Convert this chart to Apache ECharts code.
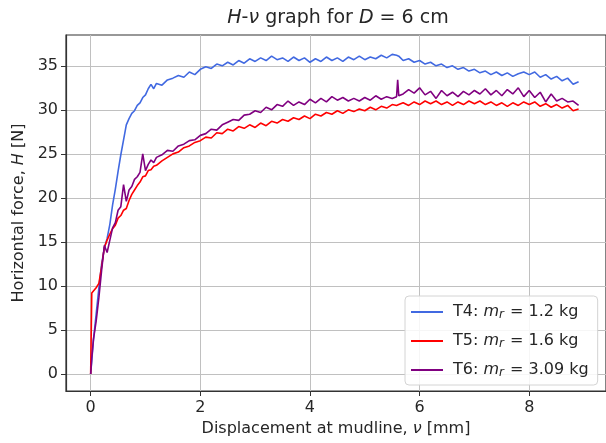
<!DOCTYPE html>
<html>
<head>
<meta charset="utf-8">
<script src="https://cdn.jsdelivr.net/npm/echarts@6/dist/echarts.min.js"></script>
<style>html,body{margin:0;padding:0;background:#fff}#c{width:606px;height:443px}</style>
</head>
<body>
<div id="c"></div>
<script>
// Displacement at mudline, v [mm]
const disp = [0,0.02,0.05,0.1,0.15,0.2,0.25,0.3,0.35,0.4,0.45,0.5,0.55,0.6,0.65,0.7,0.75,0.8,0.85,0.9,0.95,1.0,1.05,1.1,1.15,1.2,
  1.3,1.4,1.5,1.6,1.7,1.8,1.9,2.0,
  2.1,2.2,2.3,2.4,2.5,2.6,2.7,2.8,2.9,3.0,
  3.1,3.2,3.3,3.4,3.5,3.6,3.7,3.8,3.9,4.0,
  4.1,4.2,4.3,4.4,4.5,4.6,4.7,4.8,4.9,5.0,
  5.1,5.2,5.3,5.4,5.5,5.58,5.6,5.62,5.7,5.8,5.9,6.0,
  6.1,6.2,6.3,6.4,6.5,6.6,6.7,6.8,6.9,7.0,
  7.1,7.2,7.3,7.4,7.5,7.6,7.7,7.8,7.9,8.0,
  8.1,8.2,8.3,8.4,8.5,8.6,8.7,8.8,8.9];
// Horizontal force H [N]
const t4 = [0,1.5,3.8,6.8,9.8,12.5,14.3,15.4,17.0,19.2,21.0,23.0,24.9,26.6,28.3,29.0,29.6,29.9,30.5,30.8,31.4,31.7,32.4,32.9,32.4,33.0,
  32.8,33.4,33.6,33.9,33.7,34.3,34.0,34.6,
  34.9,34.7,35.2,35.0,35.4,35.1,35.6,35.3,35.8,35.5,
  35.9,35.6,36.1,35.7,35.9,35.5,36.0,35.6,35.9,35.4,
  35.8,35.5,36.0,35.6,35.9,35.5,36.0,35.7,36.1,35.7,
  36.0,35.8,36.2,35.9,36.3,36.2,36.0,36.1,35.6,35.8,35.4,35.6,
  35.2,35.4,35.0,35.2,34.8,35.0,34.6,34.8,34.4,34.6,
  34.2,34.4,34.0,34.3,33.9,34.2,33.8,34.1,34.3,34.0,
  34.3,33.7,34.0,33.5,33.8,33.3,33.6,32.9,33.2];
const t5 = [0,9.2,9.4,9.8,10.3,12.2,14.4,15.2,15.9,16.5,16.9,17.7,18.0,18.6,18.8,19.7,20.4,20.9,21.4,21.8,22.4,22.5,23.1,23.2,23.6,23.7,
  24.2,24.6,25.0,25.2,25.7,25.9,26.3,26.5,
  26.9,26.8,27.4,27.3,27.8,27.6,28.1,27.9,28.3,28.0,
  28.5,28.2,28.7,28.5,28.9,28.7,29.1,28.9,29.3,29.0,
  29.5,29.3,29.7,29.5,29.9,29.6,30.0,29.8,30.1,29.9,
  30.3,30.0,30.4,30.2,30.6,30.5,30.4,30.6,30.8,30.5,30.9,30.6,
  31.0,30.7,31.0,30.6,30.9,30.5,30.9,30.6,31.0,30.7,
  31.0,30.6,30.9,30.5,30.8,30.4,30.8,30.5,30.9,30.6,
  30.9,30.4,30.7,30.3,30.6,30.2,30.5,29.9,30.1];
const t6 = [0,1.8,3.9,6.0,8.7,11.8,14.6,13.8,15.2,16.6,17.2,18.6,19.0,21.5,19.6,20.9,21.3,22.1,22.4,22.9,25.0,23.1,23.8,24.3,24.0,24.6,
  24.9,25.4,25.3,25.9,26.1,26.5,26.6,27.1,
  27.3,27.8,27.7,28.3,28.6,28.9,28.8,29.4,29.5,29.9,
  29.7,30.3,30.0,30.6,30.4,31.0,30.5,30.9,30.6,31.2,
  30.8,31.3,30.9,31.5,31.1,31.4,31.0,31.3,31.0,31.4,
  31.1,31.6,31.2,31.5,31.3,31.5,33.4,31.6,31.8,32.3,31.9,32.5,
  31.7,32.1,31.3,32.2,31.6,32.0,31.5,32.1,31.7,32.2,
  31.8,32.4,31.7,32.2,31.6,32.3,31.8,32.5,31.5,32.2,
  31.4,32.0,30.9,31.8,31.0,31.3,30.9,31.0,30.5];
const xTicks = [0,2,4,6,8];
const yTicks = [0,5,10,15,20,25,30,35];
const seriesNames = ['T4','T5','T6'];
const massLabels = ['1.2','1.6','3.09'];
const colors = ['#4169e1','#ff0000','#800080'];

const FONT = 'DejaVu Sans';
const TXT = '#262626';
const chart = echarts.init(document.getElementById('c'), null, {renderer:'canvas'});
const allY = [t4,t5,t6];
const series = seriesNames.map((n,k)=>({
  name:n, type:'line', symbol:'none', showSymbol:false, animation:false,
  data: disp.map((x,i)=>[x, allY[k][i]]),
  lineStyle:{color:colors[k], width:1.6}, itemStyle:{color:colors[k]}, z:2+k
}));
const labRich = {
  n:{fontFamily:FONT,fontSize:16,color:TXT,fontWeight:'normal'},
  i:{fontFamily:FONT,fontSize:16,fontStyle:'italic',color:TXT,fontWeight:'normal'}
};
chart.setOption({
  animation:false,
  title:{
    text:'{i|H}{n|-}{i|ν}{n| graph for }{i|D}{n| = 6 cm}',
    left:338, top:9, textAlign:'center', padding:0,
    textStyle:{fontWeight:'normal', rich:{
      i:{fontFamily:FONT,fontSize:19,fontStyle:'italic',color:TXT,fontWeight:'normal'},
      n:{fontFamily:FONT,fontSize:19,color:TXT,fontWeight:'normal'}
    }}
  },
  grid:{left:66, top:35, width:544, height:356, show:true, borderColor:'#333', borderWidth:1.2, backgroundColor:'#fff'},
  legend:{
    orient:'vertical', left:405, top:296,
    icon:'rect', itemWidth:32, itemHeight:2, itemGap:11,
    padding:[7,9,6,6],
    backgroundColor:'rgba(255,255,255,0.85)', borderColor:'#d4d4d4', borderWidth:1, borderRadius:4,
    data:seriesNames,
    formatter:function(name){
      const k = seriesNames.indexOf(name);
      return '{f|'+name+': }{i|m}{s|r}{n| = '+massLabels[k]+' kg}';
    },
    textStyle:{rich:{
      f:{fontFamily:FONT,fontSize:16,color:TXT,lineHeight:18,padding:[0,0,0,5]},
      n:{fontFamily:FONT,fontSize:16,color:TXT,lineHeight:18},
      i:{fontFamily:FONT,fontSize:16,fontStyle:'italic',color:TXT,lineHeight:18},
      s:{fontFamily:FONT,fontSize:12,fontStyle:'italic',color:TXT,lineHeight:12,padding:[6,1,0,0]}
    }}
  },
  xAxis:{
    type:'value', min:-0.45, max:9.4,
    name:'{n|Displacement at mudline, }{i|ν}{n| [mm]}', nameLocation:'middle', nameGap:23,
    nameTextStyle:{rich:labRich},
    axisLine:{onZero:false, lineStyle:{color:'#333',width:1.2}},
    axisTick:{show:true, length:5, inside:false, customValues:xTicks, lineStyle:{color:'#333'}},
    axisLabel:{customValues:xTicks, fontFamily:FONT, fontSize:16, color:TXT, margin:9},
    splitLine:{show:true, lineStyle:{color:'#c0c0c0', width:1}}
  },
  yAxis:{
    type:'value', min:-1.93, max:38.5,
    name:'{n|Horizontal force, }{i|H}{n| [N]}', nameLocation:'middle', nameGap:39, nameRotate:90,
    nameTextStyle:{rich:labRich},
    axisLine:{onZero:false, show:true, lineStyle:{color:'#333',width:1.2}},
    axisTick:{show:true, length:5, inside:false, customValues:yTicks, lineStyle:{color:'#333'}},
    axisLabel:{customValues:yTicks, fontFamily:FONT, fontSize:16, color:TXT, margin:8},
    splitLine:{show:true, lineStyle:{color:'#c0c0c0', width:1}}
  },
  series:series
});
</script>
</body>
</html>
